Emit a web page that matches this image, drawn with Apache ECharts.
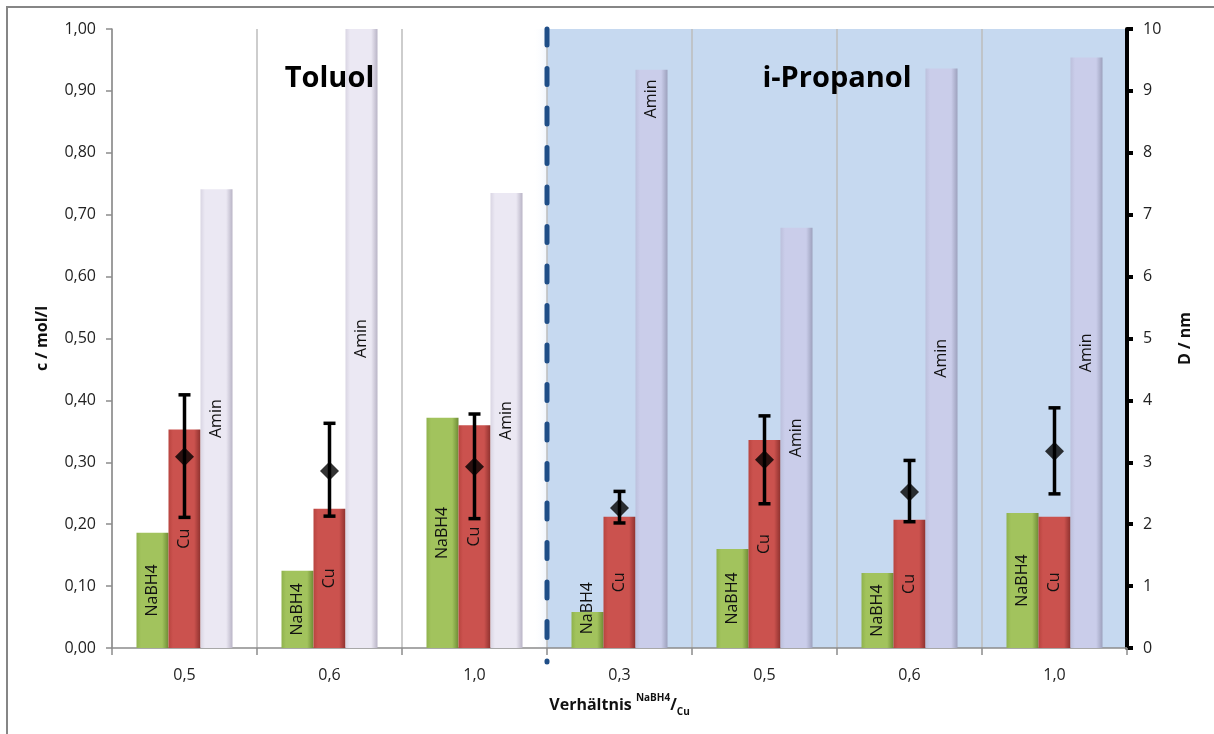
<!DOCTYPE html>
<html>
<head>
<meta charset="utf-8">
<script src="https://cdn.jsdelivr.net/npm/echarts@6/dist/echarts.min.js"></script>
<style>
  html, body { margin: 0; padding: 0; background: #fff; }
  #chart { width: 1214px; height: 734px; }
</style>
</head>
<body>
<div id="chart"></div>
<script>
// Molar ratio NaBH4/Cu per run (first three in toluene, last four in isopropanol)
const categories = ['0,5', '0,6', '1,0', '0,3', '0,5', '0,6', '1,0'];

// Concentrations c / mol/l
const nabh4 = [0.186, 0.125, 0.372, 0.058, 0.160, 0.121, 0.218];
const cu    = [0.353, 0.225, 0.360, 0.212, 0.336, 0.207, 0.212];
const amin  = [0.741, 1.000, 0.735, 0.934, 0.679, 0.936, 0.954];

// Particle diameter D / nm: mean with lower and upper error limits
const dMean = [3.09, 2.86, 2.93, 2.26, 3.04, 2.52, 3.18];
const dLow  = [2.11, 2.13, 2.09, 2.02, 2.33, 2.04, 2.49];
const dHigh = [4.09, 3.63, 3.78, 2.53, 3.75, 3.03, 3.88];

// Solvent groups as category index ranges [start, end)
const solvents     = ['Toluol', 'i-Propanol'];
const solventStart = [0, 3];
const solventEnd   = [3, 7];

const FONT = '"Open Sans", "Noto Sans", sans-serif';
const chart = echarts.init(document.getElementById('chart'), null, { renderer: 'canvas' });

// Horizontal shading that imitates a bevelled column face
function bevel(light, base, dark) {
  return new echarts.graphic.LinearGradient(0, 0, 1, 0, [
    { offset: 0, color: light },
    { offset: 0.14, color: base },
    { offset: 0.8, color: base },
    { offset: 1, color: dark }
  ]);
}
const greenFill  = bevel('#8fb24c', '#a2c35d', '#6e8c35');
const redFill    = bevel('#b8443f', '#cb524e', '#8e312e');
const aminToluol = bevel('#d9d5e3', '#ebe8f3', '#b9b4c6');
const aminIprop  = bevel('#bcc0dc', '#cacdea', '#9da1bd');

const inPropanol = i => i >= solventStart[1];

const barLabel = {
  show: true,
  position: 'inside',
  rotate: 90,
  fontFamily: FONT,
  fontSize: 16,
  color: '#111',
  formatter: p => p.seriesName
};

function barSeries(name, values, fillFor, labelFix) {
  return {
    name,
    type: 'bar',
    xAxisIndex: 0,
    yAxisIndex: 0,
    barWidth: 32,
    barGap: '0%',
    z: 2,
    label: barLabel,
    data: values.map((v, i) => {
      const item = { value: v, itemStyle: { color: fillFor(i) } };
      if (labelFix && labelFix[i] !== undefined) {
        item.label = { position: ['50%', labelFix[i]], align: 'center', verticalAlign: 'middle' };
      }
      return item;
    })
  };
}

const sectionData = solvents.map((s, i) => [solventStart[i], solventEnd[i]]);

const option = {
  animation: false,
  backgroundColor: '#fff',
  textStyle: { fontFamily: FONT },
  graphic: [{
    type: 'rect',
    silent: true,
    z: -10,
    shape: { x: 7, y: 7, width: 1300, height: 800 },
    style: { fill: null, stroke: '#868686', lineWidth: 2 }
  }],
  grid: { left: 112, right: 87, top: 29, bottom: 86, containLabel: false },
  xAxis: [{
    type: 'category',
    data: categories,
    boundaryGap: true,
    axisLine: { show: true, lineStyle: { color: '#8c8c8c', width: 1.5 } },
    axisTick: { show: true, length: 7, lineStyle: { color: '#8c8c8c', width: 1.5 } },
    splitLine: { show: true, lineStyle: { color: '#bdbdbd', width: 1.5 } },
    axisLabel: { fontFamily: FONT, fontSize: 16, color: '#222', margin: 19 },
    name: '{b|Verhältnis }{sup|NaBH4}{b|/}{sub|Cu}',
    nameLocation: 'middle',
    nameGap: 45,
    nameTextStyle: {
      rich: {
        b:   { fontFamily: FONT, fontSize: 16, fontWeight: 'bold', color: '#111', lineHeight: 24, verticalAlign: 'middle' },
        sup: { fontFamily: FONT, fontSize: 10, fontWeight: 'bold', color: '#111', lineHeight: 14, verticalAlign: 'top' },
        sub: { fontFamily: FONT, fontSize: 10, fontWeight: 'bold', color: '#111', lineHeight: 12, verticalAlign: 'bottom' }
      }
    }
  }, {
    type: 'value',
    min: 0,
    max: 7,
    show: false
  }],
  yAxis: [{
    type: 'value',
    position: 'left',
    min: 0,
    max: 1,
    interval: 0.1,
    axisLine: { show: true, lineStyle: { color: '#8c8c8c', width: 1.5 } },
    axisTick: { show: true, length: 6, lineStyle: { color: '#8c8c8c', width: 1.5 } },
    splitLine: { show: false },
    axisLabel: {
      fontFamily: FONT, fontSize: 16, color: '#222', margin: 16,
      formatter: v => v.toFixed(2).replace('.', ',')
    },
    name: 'c / mol/l',
    nameLocation: 'middle',
    nameRotate: 90,
    nameGap: 62,
    nameTextStyle: { fontFamily: FONT, fontSize: 16, fontWeight: 'bold', color: '#111' }
  }, {
    type: 'value',
    position: 'right',
    min: 0,
    max: 10,
    interval: 1,
    axisLine: { show: true, lineStyle: { color: '#000', width: 4 } },
    axisTick: { show: true, length: 6, lineStyle: { color: '#000', width: 4 } },
    splitLine: { show: false },
    axisLabel: { fontFamily: FONT, fontSize: 16, color: '#222', margin: 16 },
    name: 'D / nm',
    nameLocation: 'middle',
    nameRotate: 90,
    nameGap: 50,
    nameTextStyle: { fontFamily: FONT, fontSize: 16, fontWeight: 'bold', color: '#111' }
  }],
  series: [
    // Shaded isopropanol block behind the grid lines
    {
      name: 'sections',
      type: 'custom',
      xAxisIndex: 1,
      yAxisIndex: 0,
      z: -1,
      silent: true,
      data: sectionData,
      renderItem(params, api) {
        const i = params.dataIndex;
        if (i === 0) return { type: 'group', children: [] };
        const tl = api.coord([api.value(0), 1]);
        const br = api.coord([api.value(1), 0]);
        return {
          type: 'group',
          children: [{
            type: 'rect',
            shape: { x: tl[0], y: tl[1], width: br[0] - tl[0], height: br[1] - tl[1] },
            style: { fill: '#c6d9f0' }
          }, {
            // soft white fade just left of the separator
            type: 'rect',
            shape: { x: tl[0] - 14, y: tl[1], width: 14, height: br[1] - tl[1] },
            style: {
              fill: new echarts.graphic.LinearGradient(0, 0, 1, 0, [
                { offset: 0, color: 'rgba(255,255,255,0)' },
                { offset: 1, color: 'rgba(240,245,252,1)' }
              ])
            }
          }]
        };
      }
    },
    // Dashed separator between the two solvents, above the grid lines
    {
      name: 'separator',
      type: 'custom',
      xAxisIndex: 1,
      yAxisIndex: 0,
      z: 3,
      silent: true,
      data: sectionData.slice(1),
      renderItem(params, api) {
        const top = api.coord([api.value(0), 1]);
        const bottom = api.coord([api.value(0), 0]);
        return {
          type: 'line',
          shape: { x1: top[0], y1: top[1], x2: top[0], y2: bottom[1] + 14 },
          style: { stroke: '#1f4e87', fill: null, lineWidth: 5, lineDash: [16, 23.5], lineCap: 'round' }
        };
      }
    },
    barSeries('NaBH4', nabh4, () => greenFill, { 3: -4 }),
    barSeries('Cu', cu, () => redFill),
    barSeries('Amin', amin, i => (inPropanol(i) ? aminIprop : aminToluol), { 3: 29 }),
    // Error bars of the particle diameter
    {
      name: 'D-Fehler',
      type: 'custom',
      xAxisIndex: 0,
      yAxisIndex: 1,
      z: 4,
      silent: true,
      data: dMean.map((m, i) => [i, dLow[i], dHigh[i]]),
      renderItem(params, api) {
        const lo = api.coord([api.value(0), api.value(1)]);
        const hi = api.coord([api.value(0), api.value(2)]);
        const w = 6;
        const st = { stroke: '#000', lineWidth: 3.5 };
        return {
          type: 'group',
          children: [
            { type: 'line', shape: { x1: lo[0], y1: lo[1], x2: hi[0], y2: hi[1] }, style: st },
            { type: 'line', shape: { x1: lo[0] - w, y1: lo[1], x2: lo[0] + w, y2: lo[1] }, style: st },
            { type: 'line', shape: { x1: hi[0] - w, y1: hi[1], x2: hi[0] + w, y2: hi[1] }, style: st }
          ]
        };
      }
    },
    {
      name: 'D',
      type: 'scatter',
      xAxisIndex: 0,
      yAxisIndex: 1,
      z: 5,
      symbol: 'diamond',
      symbolSize: [19, 19],
      itemStyle: { color: '#000' },
      data: dMean
    },
    // Solvent titles
    {
      name: 'titles',
      type: 'custom',
      xAxisIndex: 1,
      yAxisIndex: 0,
      z: 6,
      silent: true,
      data: sectionData,
      renderItem(params, api) {
        const i = params.dataIndex;
        const p = api.coord([(api.value(0) + api.value(1)) / 2, 0.92]);
        return {
          type: 'text',
          style: {
            text: solvents[i], x: p[0], y: p[1],
            align: 'center', verticalAlign: 'middle',
            font: 'bold 29px ' + FONT, fill: '#000'
          }
        };
      }
    }
  ]
};

chart.setOption(option);
</script>
</body>
</html>
